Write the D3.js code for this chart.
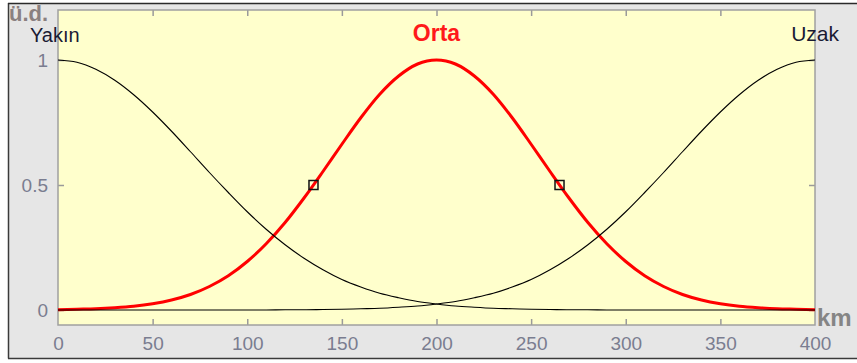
<!DOCTYPE html>
<html>
<head>
<meta charset="utf-8">
<script src="https://cdn.jsdelivr.net/npm/d3@7/dist/d3.min.js"></script>
<style>
  html, body { margin: 0; padding: 0; background: #ffffff; }
  svg { display: block; }
  text { font-family: "Liberation Sans", Arial, sans-serif; }
</style>
</head>
<body>
<svg id="chart" width="857" height="363"></svg>
<script>
// Membership function samples (distance in km -> degree of membership)
const km = [0, 10, 20, 30, 40, 50, 60, 70, 80, 90, 100, 110, 120, 130, 140, 150, 160, 170, 180, 190, 200,
            210, 220, 230, 240, 250, 260, 270, 280, 290, 300, 310, 320, 330, 340, 350, 360, 370, 380, 390, 400];

const yakin = [1.000, 0.991, 0.963, 0.919, 0.861, 0.792, 0.715, 0.633, 0.550, 0.470, 0.393,
               0.323, 0.261, 0.207, 0.161, 0.122, 0.092, 0.067, 0.049, 0.034, 0.024,
               0.016, 0.011, 0.007, 0.005, 0.003, 0.002, 0.001, 0.001, 0.000, 0.000,
               0.000, 0.000, 0.000, 0.000, 0.000, 0.000, 0.000, 0.000, 0.000, 0.000];

const orta = [0.001, 0.003, 0.005, 0.009, 0.015, 0.025, 0.040, 0.062, 0.094, 0.137, 0.194,
              0.265, 0.350, 0.448, 0.554, 0.663, 0.769, 0.863, 0.936, 0.984, 1.000,
              0.984, 0.936, 0.863, 0.769, 0.663, 0.554, 0.448, 0.350, 0.265, 0.194,
              0.137, 0.094, 0.062, 0.040, 0.025, 0.015, 0.009, 0.005, 0.003, 0.001];

const uzak = [0.000, 0.000, 0.000, 0.000, 0.000, 0.000, 0.000, 0.000, 0.000, 0.000, 0.000,
              0.000, 0.001, 0.001, 0.002, 0.003, 0.005, 0.007, 0.011, 0.016, 0.024,
              0.034, 0.049, 0.067, 0.092, 0.122, 0.161, 0.207, 0.261, 0.323, 0.393,
              0.470, 0.550, 0.633, 0.715, 0.792, 0.861, 0.919, 0.963, 0.991, 1.000];

// Points where "Orta" reaches 0.5
const markKm = [135, 265];
const markVal = [0.5, 0.5];

const xTicks = [0, 50, 100, 150, 200, 250, 300, 350, 400];
const yTicks = [0, 0.5, 1];
const yTickLabels = ["0", "0.5", "1"];

const setNames = ["Yakın", "Orta", "Uzak"];

const svg = d3.select("#chart");

// Window background and frame
svg.append("rect").attr("x", 8).attr("y", 3).attr("width", 849).attr("height", 355).attr("fill", "#e6e6e6");
svg.append("line").attr("x1", 8.5).attr("x2", 8.5).attr("y1", 3).attr("y2", 358.5).attr("stroke", "#3a3a3a").attr("stroke-width", 1.5);
svg.append("line").attr("x1", 8).attr("x2", 857).attr("y1", 3.5).attr("y2", 3.5).attr("stroke", "#2a2a2a").attr("stroke-width", 1.5);
svg.append("line").attr("x1", 8).attr("x2", 857).attr("y1", 358.5).attr("y2", 358.5).attr("stroke", "#3a3a3a").attr("stroke-width", 1.5);

const plot = { left: 58, right: 815, top: 10, bottom: 325 };

const x = d3.scaleLinear().domain([0, 400]).range([plot.left, plot.right]);
const y = d3.scaleLinear().domain([-0.06, 1.2]).range([plot.bottom, plot.top]);

// Plot area
svg.append("rect")
  .attr("x", plot.left).attr("y", plot.top)
  .attr("width", plot.right - plot.left).attr("height", plot.bottom - plot.top)
  .attr("fill", "#ffffcc");

// Axes: box with inward ticks on all four sides
const tickColor = "#9a9a9a";
const labelColor = "#7a7d90";

const axBottom = svg.append("g").attr("transform", `translate(0,${plot.bottom})`)
  .call(d3.axisBottom(x).tickValues(xTicks).tickSizeInner(-6).tickSizeOuter(0).tickPadding(12).tickFormat(d3.format("d")));
const axTop = svg.append("g").attr("transform", `translate(0,${plot.top})`)
  .call(d3.axisTop(x).tickValues(xTicks).tickSizeInner(-6).tickSizeOuter(0).tickFormat(""));
const axLeft = svg.append("g").attr("transform", `translate(${plot.left},0)`)
  .call(d3.axisLeft(y).tickValues(yTicks).tickSizeInner(-6).tickSizeOuter(0).tickPadding(10)
    .tickFormat((d, i) => yTickLabels[i]));
const axRight = svg.append("g").attr("transform", `translate(${plot.right},0)`)
  .call(d3.axisRight(y).tickValues(yTicks).tickSizeInner(-6).tickSizeOuter(0).tickFormat(""));

[axBottom, axTop, axLeft, axRight].forEach(g => {
  g.select(".domain").remove();
  g.selectAll(".tick line").attr("stroke", tickColor).attr("stroke-width", 1.5);
  g.selectAll(".tick text").attr("fill", labelColor).attr("font-size", 19)
    .attr("font-family", "'Liberation Sans', Arial, sans-serif");
});
// first and last x ticks coincide with the box edges
axBottom.selectAll(".tick line").filter(d => d === 0 || d === 400).remove();
axTop.selectAll(".tick line").filter(d => d === 0 || d === 400).remove();

svg.append("rect")
  .attr("x", plot.left).attr("y", plot.top)
  .attr("width", plot.right - plot.left).attr("height", plot.bottom - plot.top)
  .attr("fill", "none").attr("stroke", "#a0a0a0").attr("stroke-width", 1.5);

// Membership curves
const line = d3.line()
  .x((d, i) => x(km[i]))
  .y(d => y(d))
  .curve(d3.curveMonotoneX);

svg.append("path").datum(orta).attr("d", line)
  .attr("fill", "none").attr("stroke", "#ff0000").attr("stroke-width", 3);
svg.append("path").datum(yakin).attr("d", line)
  .attr("fill", "none").attr("stroke", "#000000").attr("stroke-width", 1.1);
svg.append("path").datum(uzak).attr("d", line)
  .attr("fill", "none").attr("stroke", "#000000").attr("stroke-width", 1.1);

// Crossover markers
svg.selectAll("rect.mark").data(markKm).join("rect")
  .attr("class", "mark")
  .attr("x", (d) => x(d) - 4.5)
  .attr("y", (d, i) => y(markVal[i]) - 4.5)
  .attr("width", 9).attr("height", 9)
  .attr("fill", "none").attr("stroke", "#111").attr("stroke-width", 1.5);

// Set names
svg.append("text").attr("x", 30).attr("y", 42).attr("font-size", 20).attr("fill", "#1a1a33").text(setNames[0]);
svg.append("text").attr("x", x(200)).attr("y", 41).attr("text-anchor", "middle")
  .attr("font-size", 23).attr("font-weight", "bold").attr("fill", "#ff1a1a").text(setNames[1]);
svg.append("text").attr("x", 839).attr("y", 41).attr("text-anchor", "end").attr("font-size", 21).attr("fill", "#1a1a33").text(setNames[2]);

// Axis names
svg.append("text").attr("x", 9).attr("y", 21).attr("font-size", 22).attr("font-weight", "bold")
  .attr("fill", "#8a8080").text("ü.d.");
svg.append("text").attr("x", 817).attr("y", 326).attr("font-size", 24).attr("font-weight", "bold")
  .attr("fill", "#858585").text("km");
</script>
</body>
</html>
